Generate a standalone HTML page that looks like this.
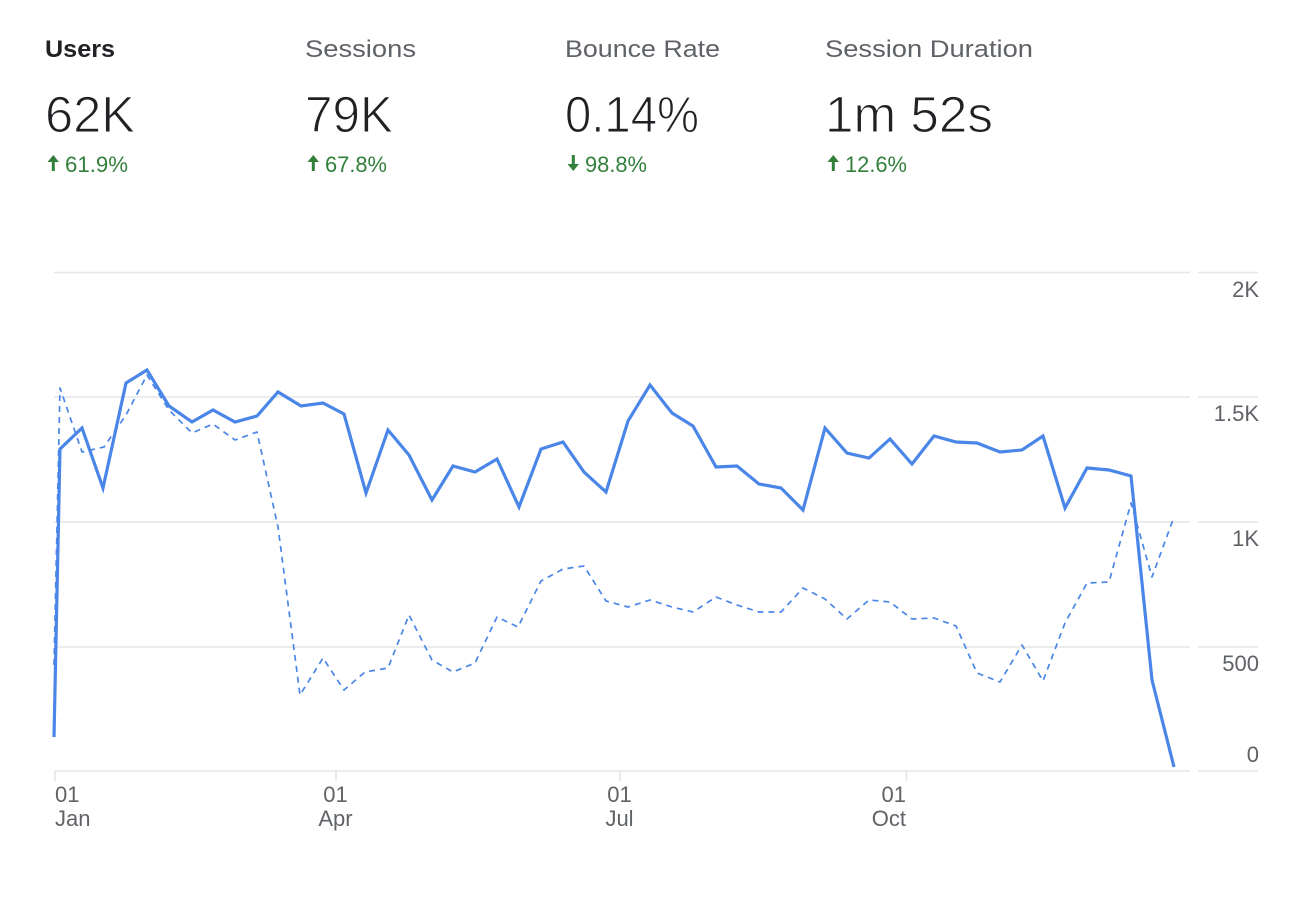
<!DOCTYPE html>
<html>
<head>
<meta charset="utf-8">
<style>
  html, body { margin:0; padding:0; background:#ffffff; }
  body { width:1304px; height:900px; overflow:hidden; }
  svg { display:block; }
  text { font-family: "Liberation Sans", "DejaVu Sans", sans-serif; }
</style>
</head>
<body>
<svg width="1304" height="900" viewBox="0 0 1304 900" xmlns="http://www.w3.org/2000/svg">
  <rect x="0" y="0" width="1304" height="900" fill="#ffffff"/>

  <!-- Header metrics -->
  <text x="45" y="57" font-size="24" font-weight="bold" fill="#202124" textLength="70" lengthAdjust="spacingAndGlyphs">Users</text>
  <text x="305" y="57" font-size="24" fill="#5f6368" textLength="111" lengthAdjust="spacingAndGlyphs">Sessions</text>
  <text x="565" y="57" font-size="24" fill="#5f6368" textLength="155" lengthAdjust="spacingAndGlyphs">Bounce Rate</text>
  <text x="825" y="57" font-size="24" fill="#5f6368" textLength="208" lengthAdjust="spacingAndGlyphs">Session Duration</text>

  <g font-size="51" fill="#202124" stroke="#ffffff" stroke-width="1.1">
    <text x="45" y="132" textLength="90" lengthAdjust="spacingAndGlyphs">62K</text>
    <text x="305" y="132" textLength="88" lengthAdjust="spacingAndGlyphs">79K</text>
    <text x="565" y="132" textLength="134" lengthAdjust="spacingAndGlyphs">0.14%</text>
    <text x="825" y="132" textLength="168" lengthAdjust="spacingAndGlyphs">1m 52s</text>
  </g>

  <!-- change arrows -->
  <g fill="#33803c">
    <polygon points="47.5,162 53.3,155 59,162"/>
    <rect x="51.8" y="161" width="3" height="10"/>
    <polygon points="307.5,162 313.3,155 319,162"/>
    <rect x="311.8" y="161" width="3" height="10"/>
    <polygon points="567.5,164 573.3,171 579,164"/>
    <rect x="571.8" y="155" width="3" height="10"/>
    <polygon points="827.5,162 833.3,155 839,162"/>
    <rect x="831.8" y="161" width="3" height="10"/>
  </g>
  <text x="65" y="172" font-size="22" fill="#33803c" textLength="63" lengthAdjust="spacingAndGlyphs">61.9%</text>
  <text x="325" y="172" font-size="22" fill="#33803c" textLength="62" lengthAdjust="spacingAndGlyphs">67.8%</text>
  <text x="585" y="172" font-size="22" fill="#33803c" textLength="62" lengthAdjust="spacingAndGlyphs">98.8%</text>
  <text x="845" y="172" font-size="22" fill="#33803c" textLength="62" lengthAdjust="spacingAndGlyphs">12.6%</text>

  <!-- gridlines -->
  <g stroke="#e6e6e6" stroke-width="1.6">
    <line x1="54" y1="272.5" x2="1190" y2="272.5"/>
    <line x1="1198" y1="272.5" x2="1258" y2="272.5"/>
    <line x1="54" y1="397" x2="1190" y2="397"/>
    <line x1="1198" y1="397" x2="1258" y2="397"/>
    <line x1="54" y1="522" x2="1190" y2="522"/>
    <line x1="1198" y1="522" x2="1258" y2="522"/>
    <line x1="54" y1="647" x2="1190" y2="647"/>
    <line x1="1198" y1="647" x2="1258" y2="647"/>
    <line x1="54" y1="771" x2="1190" y2="771"/>
    <line x1="1198" y1="771" x2="1258" y2="771"/>
    <!-- ticks -->
    <line x1="55" y1="771" x2="55" y2="781"/>
    <line x1="336" y1="771" x2="336" y2="781"/>
    <line x1="620" y1="771" x2="620" y2="781"/>
    <line x1="906.5" y1="771" x2="906.5" y2="781"/>
  </g>

  <!-- y labels -->
  <g font-size="22" fill="#5f6368" text-anchor="end">
    <text x="1259" y="297">2K</text>
    <text x="1259" y="421">1.5K</text>
    <text x="1259" y="546">1K</text>
    <text x="1259" y="671">500</text>
    <text x="1259" y="762">0</text>
  </g>

  <!-- x labels -->
  <g font-size="22" fill="#5f6368">
    <text x="55" y="802">01</text>
    <text x="55" y="826">Jan</text>
    <text x="335.5" y="802" text-anchor="middle">01</text>
    <text x="335.5" y="826" text-anchor="middle">Apr</text>
    <text x="619.5" y="802" text-anchor="middle">01</text>
    <text x="619.5" y="826" text-anchor="middle">Jul</text>
    <text x="906" y="802" text-anchor="end">01</text>
    <text x="906" y="826" text-anchor="end">Oct</text>
  </g>

  <!-- dashed series -->
  <polyline fill="none" stroke="#4a86e8" stroke-width="1.7" stroke-dasharray="6 5" stroke-linejoin="round"
    points="54,665 60,388 82,452 104,447 126,415 147,375 169,410 192,433 213,424 235,440 257,432 278,527 300,695 323,658 344,690 365,672 388,668 409,615 432,660 453,672 475,663 497,617 518,627 541,581 563,569 584,566 606,601 628,607 650,600 672,607 693,612 716,597 737,605 759,612 781,612 803,588 825,599 847,619 869,600 890,602 912,619 934,618 956,626 977,673 1000,682 1022,645 1043,681 1065,623 1087,583 1109,582 1131,503 1152,577 1174,517"/>

  <!-- solid series -->
  <polyline fill="none" stroke="#4a86e8" stroke-width="3.2" stroke-linejoin="miter"
    points="54,737 60,449 82,428 103,488 126,383 147,370 169,406 192,422 213,410 235,422 257,416 278,392 301,406 323,403 344,414 366,493 388,430 409,455 432,500 453,466 475,472 497,459 519,507 541,449 563,442 584,472 606,492 628,421 650,385 672,413 693,426 716,467 737,466 759,484 781,488 803,510 825,428 847,453 869,458 890,439 912,464 934,436 956,442 977,443 1000,452 1022,450 1043,436 1065,508 1087,468 1109,470 1131,476 1152,680 1174,767"/>
</svg>
</body>
</html>
